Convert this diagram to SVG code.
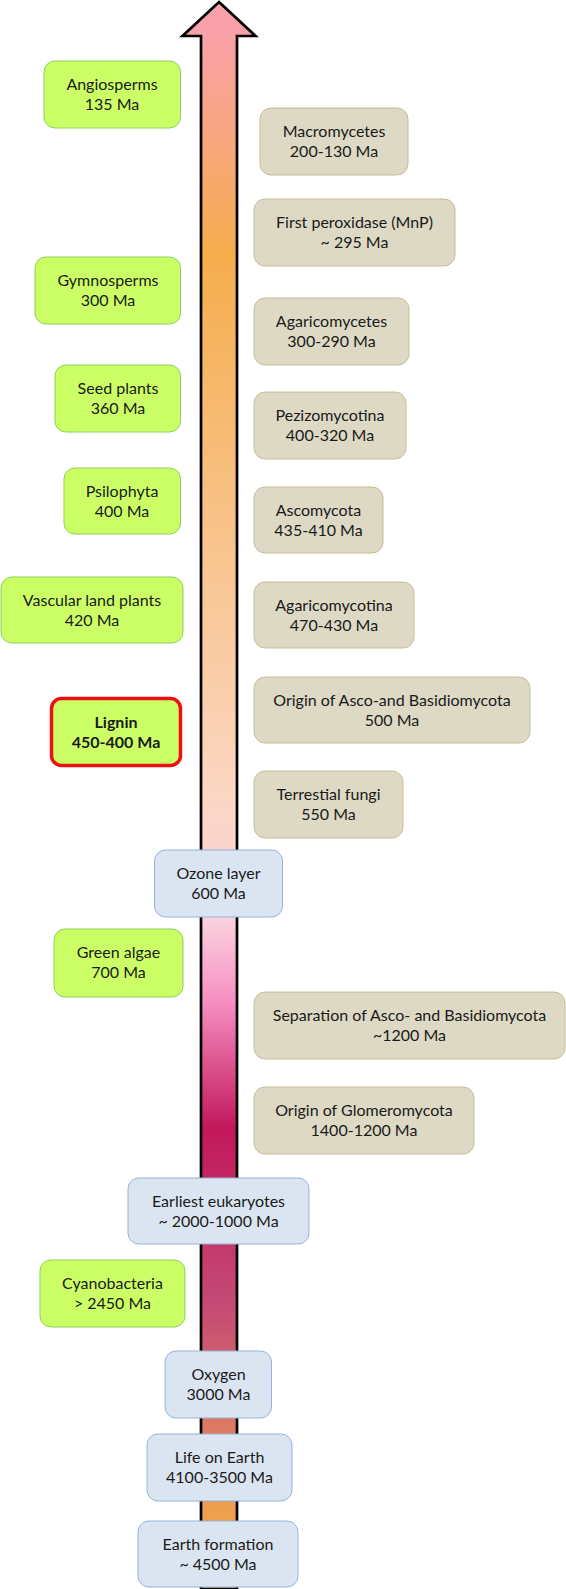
<svg xmlns="http://www.w3.org/2000/svg" width="566" height="1589" viewBox="0 0 566 1589">
<defs>
<linearGradient id="tl" gradientUnits="userSpaceOnUse" x1="0" y1="0" x2="0" y2="1589">
<stop offset="0.02" stop-color="#F9A1AA"/>
<stop offset="0.16" stop-color="#F5AD4D"/>
<stop offset="0.33" stop-color="#F8C288"/>
<stop offset="0.50" stop-color="#FBD6C2"/>
<stop offset="0.58" stop-color="#FAD0DE"/>
<stop offset="0.63" stop-color="#F68FC2"/>
<stop offset="0.71" stop-color="#C2185B"/>
<stop offset="0.82" stop-color="#C44A75"/>
<stop offset="0.90" stop-color="#DD7A62"/>
<stop offset="0.95" stop-color="#EFA04E"/>
</linearGradient>
<style>
.g{fill:#CCFF66;stroke:#8CCF5A;stroke-width:1}
.b{fill:#DDD9C4;stroke:#C5BE97;stroke-width:1}
.u{fill:#DBE5F1;stroke:#95B3D7;stroke-width:1}
.lig{fill:#CCFF66;stroke:#EE1111;stroke-width:3.5}
text{font-family:Lato,"Liberation Sans",sans-serif;font-size:16px;fill:#1a1a1a;text-anchor:middle}
.bold{font-weight:bold}
</style>
</defs>
<g id="connectors">
<path id="timeline-arrow" d="M219,2 L255.5,36 L237,36 L237,1589 L201,1589 L201,36 L182.5,36 Z" fill="url(#tl)" stroke="#000" stroke-width="2.7" stroke-linejoin="miter"/>
</g>
<g id="angiosperms"><rect class="g" x="44" y="61" width="136.5" height="67" rx="11"/><text x="112" y="90">Angiosperms</text><text x="112" y="110">135 Ma</text></g>
<g id="gymnosperms"><rect class="g" x="35" y="257" width="145.5" height="67" rx="11"/><text x="108" y="286">Gymnosperms</text><text x="108" y="306">300 Ma</text></g>
<g id="seed-plants"><rect class="g" x="55" y="365" width="125.5" height="67" rx="11"/><text x="118" y="394">Seed plants</text><text x="118" y="414">360 Ma</text></g>
<g id="psilophyta"><rect class="g" x="64" y="468" width="116.5" height="66" rx="11"/><text x="122" y="496.5">Psilophyta</text><text x="122" y="516.5">400 Ma</text></g>
<g id="vascular"><rect class="g" x="1" y="577" width="182" height="66" rx="11"/><text x="92" y="605.5">Vascular land plants</text><text x="92" y="625.5">420 Ma</text></g>
<g id="lignin"><rect class="lig" x="51.5" y="698.5" width="129" height="67" rx="10"/><text class="bold" x="116" y="727.5">Lignin</text><text class="bold" x="116" y="747.5">450-400 Ma</text></g>
<g id="green-algae"><rect class="g" x="54" y="929" width="129" height="68" rx="11"/><text x="118.5" y="958">Green algae</text><text x="118.5" y="978">700 Ma</text></g>
<g id="cyanobacteria"><rect class="g" x="40" y="1260" width="145" height="67" rx="11"/><text x="112.5" y="1289">Cyanobacteria</text><text x="112.5" y="1309">&gt; 2450 Ma</text></g>
<g id="macromycetes"><rect class="b" x="260" y="108" width="148" height="67" rx="11"/><text x="334" y="137">Macromycetes</text><text x="334" y="157">200-130 Ma</text></g>
<g id="first-peroxidase"><rect class="b" x="254" y="199" width="201" height="67" rx="11"/><text x="354.5" y="228">First peroxidase (MnP)</text><text x="354.5" y="248">~ 295 Ma</text></g>
<g id="agaricomycetes"><rect class="b" x="254" y="298" width="155" height="67" rx="11"/><text x="331.5" y="327">Agaricomycetes</text><text x="331.5" y="347">300-290 Ma</text></g>
<g id="pezizomycotina"><rect class="b" x="254" y="392" width="152" height="67" rx="11"/><text x="330" y="421">Pezizomycotina</text><text x="330" y="441">400-320 Ma</text></g>
<g id="ascomycota"><rect class="b" x="254" y="487" width="129" height="66" rx="11"/><text x="318.5" y="515.5">Ascomycota</text><text x="318.5" y="535.5">435-410 Ma</text></g>
<g id="agaricomycotina"><rect class="b" x="254" y="582" width="160" height="66" rx="11"/><text x="334" y="610.5">Agaricomycotina</text><text x="334" y="630.5">470-430 Ma</text></g>
<g id="origin-asco-basidio"><rect class="b" x="254" y="677" width="276" height="66" rx="11"/><text x="392" y="705.5">Origin of Asco-and Basidiomycota</text><text x="392" y="725.5">500 Ma</text></g>
<g id="terrestial-fungi"><rect class="b" x="254" y="771" width="149" height="67" rx="11"/><text x="328.5" y="800">Terrestial fungi</text><text x="328.5" y="820">550 Ma</text></g>
<g id="separation"><rect class="b" x="254" y="992" width="311" height="67" rx="11"/><text x="409.5" y="1021">Separation of Asco- and Basidiomycota</text><text x="409.5" y="1041">~1200 Ma</text></g>
<g id="glomeromycota"><rect class="b" x="254" y="1087" width="220" height="67" rx="11"/><text x="364" y="1116">Origin of Glomeromycota</text><text x="364" y="1136">1400-1200 Ma</text></g>
<g id="ozone"><rect class="u" x="154.5" y="850" width="128" height="67" rx="11"/><text x="218.5" y="879">Ozone layer</text><text x="218.5" y="899">600 Ma</text></g>
<g id="eukaryotes"><rect class="u" x="128" y="1178" width="181" height="66" rx="11"/><text x="218.5" y="1206.5">Earliest eukaryotes</text><text x="218.5" y="1226.5">~ 2000-1000 Ma</text></g>
<g id="oxygen"><rect class="u" x="165" y="1351" width="106.5" height="67" rx="11"/><text x="218.5" y="1380">Oxygen</text><text x="218.5" y="1400">3000 Ma</text></g>
<g id="life"><rect class="u" x="147" y="1434" width="145" height="67" rx="11"/><text x="219.5" y="1463">Life on Earth</text><text x="219.5" y="1483">4100-3500 Ma</text></g>
<g id="earth-formation"><rect class="u" x="138" y="1521" width="160" height="66" rx="11"/><text x="218" y="1549.5">Earth formation</text><text x="218" y="1569.5">~ 4500 Ma</text></g>
</svg>
